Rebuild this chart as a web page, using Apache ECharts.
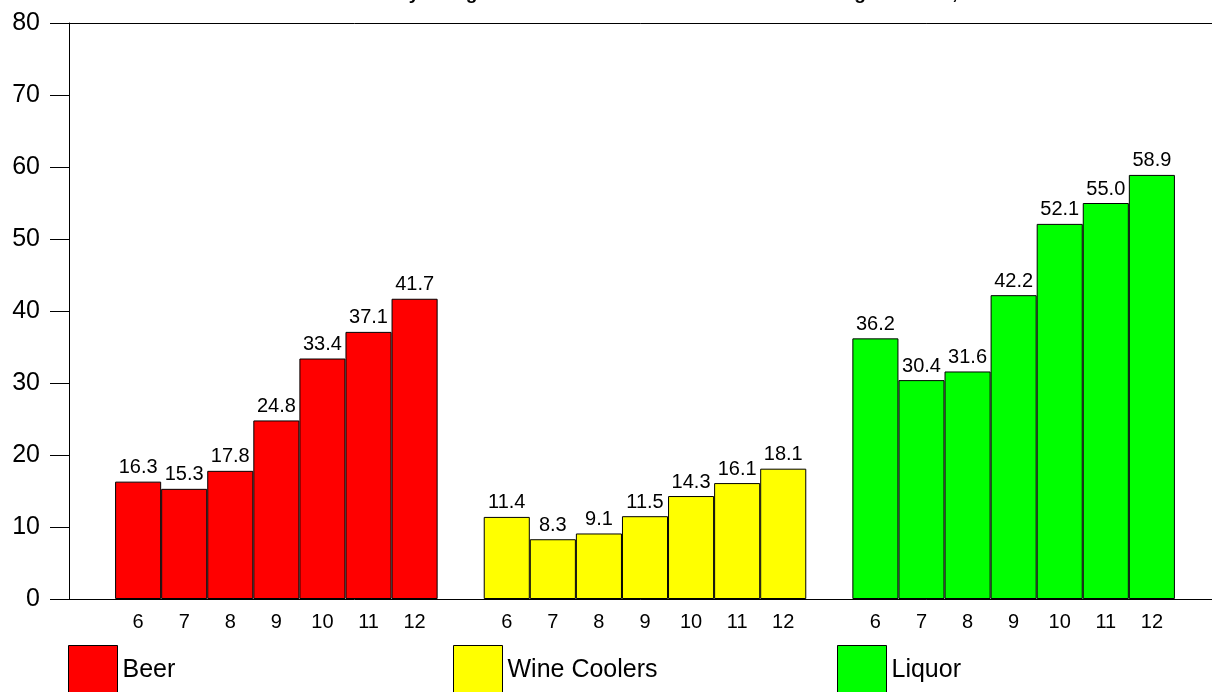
<!DOCTYPE html>
<html>
<head>
<meta charset="utf-8">
<script src="https://cdn.jsdelivr.net/npm/echarts@6/dist/echarts.min.js"></script>
<style>
html,body{margin:0;padding:0;background:#fff;}
#chart{width:1212px;height:692px;}
</style>
</head>
<body>
<div id="chart"></div>
<script>
const titleText = 'Teens Currently Using Alcohol in the Last Month at Home Among Students, 1990';
const grades = ['6', '7', '8', '9', '10', '11', '12'];
const beer = [16.3, 15.3, 17.8, 24.8, 33.4, 37.1, 41.7];
const wineCoolers = [11.4, 8.3, 9.1, 11.5, 14.3, 16.1, 18.1];
const liquor = [36.2, 30.4, 31.6, 42.2, 52.1, 55.0, 58.9];
const yTicks = [0, 10, 20, 30, 40, 50, 60, 70, 80];

// Category slots: blank, grades (Beer), blank, grades (Wine Coolers), blank, grades (Liquor), blank
const groups = [beer, wineCoolers, liquor];
const categories = [''];
const seriesData = groups.map(() => []);
seriesData.forEach(d => d.push(null));
groups.forEach((vals, g) => {
  grades.forEach((gr, i) => {
    categories.push(gr);
    seriesData.forEach((d, k) => d.push(k === g ? vals[i] : null));
  });
  categories.push('');
  seriesData.forEach(d => d.push(null));
});

const names = ['Beer', 'Wine Coolers', 'Liquor'];
const colors = ['#ff0000', '#ffff00', '#00ff00'];
const FONT = 'Liberation Sans, Arial, sans-serif';

const chart = echarts.init(document.getElementById('chart'), null, {renderer: 'canvas'});
chart.setOption({
  animation: false,
  backgroundColor: '#fff',
  title: {
    text: titleText,
    left: 276, top: -16, padding: 0,
    textStyle: {fontFamily: FONT, fontSize: 19, fontWeight: 'bold', color: '#000'}
  },
  grid: {left: 69, top: 23, width: 1152, height: 576, containLabel: false, outerBoundsMode: 'none'},
  xAxis: [{
    type: 'category',
    data: categories,
    axisLine: {lineStyle: {color: '#000', width: 1}},
    axisTick: {show: false},
    axisLabel: {fontFamily: FONT, fontSize: 20, color: '#000', margin: 13, interval: 0},
    splitLine: {show: false}
  }, {
    type: 'category',
    position: 'top',
    data: categories,
    axisLine: {show: true, lineStyle: {color: '#000', width: 1}},
    axisTick: {show: false},
    axisLabel: {show: false}
  }],
  yAxis: {
    type: 'value',
    min: yTicks[0], max: yTicks[yTicks.length - 1], interval: 10,
    axisLine: {show: true, lineStyle: {color: '#000', width: 1}},
    axisTick: {show: true, length: 19, lineStyle: {color: '#000'}},
    axisLabel: {fontFamily: FONT, fontSize: 25, color: '#000', margin: 29},
    splitLine: {show: false}
  },
  legend: names.map((n, i) => ({
    data: [n],
    left: [68, 453, 837][i],
    top: 645,
    padding: 0,
    icon: 'rect',
    itemWidth: 49,
    itemHeight: 49,
    itemStyle: {borderColor: '#000', borderWidth: 1},
    textStyle: {fontFamily: FONT, fontSize: 25, color: '#000'},
    selectedMode: false
  })),
  series: names.map((n, i) => ({
    name: n,
    type: 'bar',
    data: seriesData[i],
    barWidth: '100%',
    barGap: '-100%',
    barCategoryGap: 0,
    itemStyle: {color: colors[i], borderColor: '#000', borderWidth: 1},
    label: {
      show: true, position: 'top', distance: 4,
      fontFamily: FONT, fontSize: 20, color: '#000',
      formatter: p => p.value == null ? '' : Number(p.value).toFixed(1)
    }
  }))
});
</script>
</body>
</html>
